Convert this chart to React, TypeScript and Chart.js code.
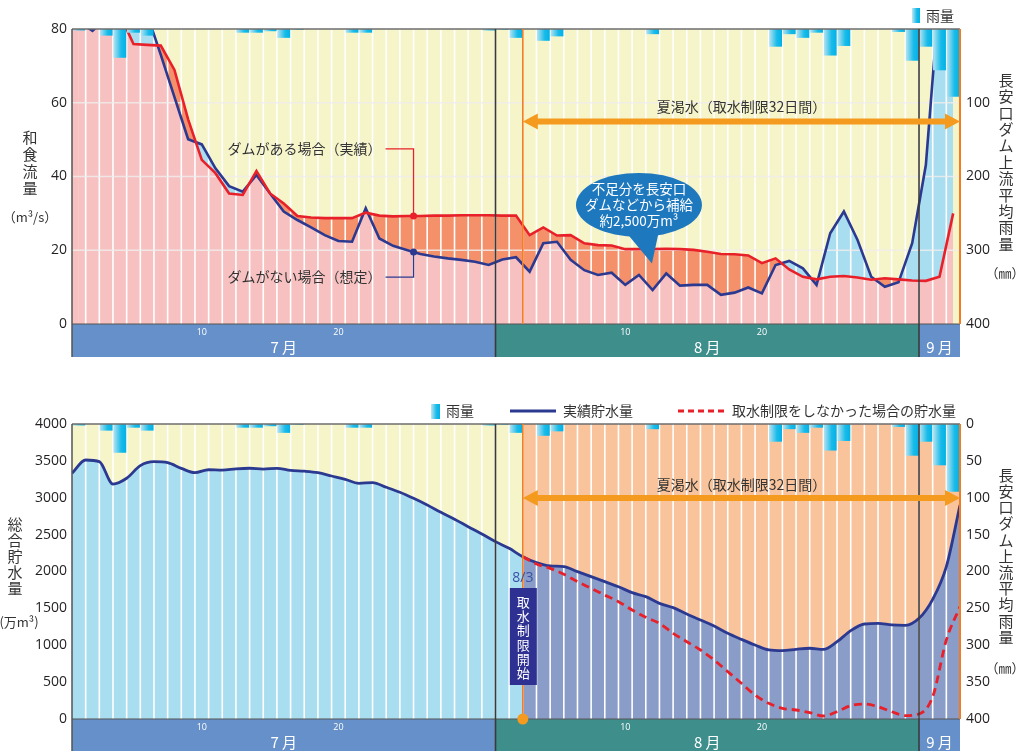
import React, { useEffect, useRef } from "react";
import { Chart, registerables } from "chart.js";

Chart.register(...registerables);

// ---------------- data ----------------
const monthNames = ["7 月", "8 月", "9 月"];
const monthDays = [31, 31, 3];
const dayTickDays = [10, 20];
const dayTickLabels = ["10", "20"];

// daily rainfall (mm), Jul 1 .. Sep 3
const rainMm = [
  2, 0, 9, 39, 5, 9, 0, 0, 0, 0, 0, 0, 5, 5, 3, 12, 1, 0, 0, 0, 5, 5, 0, 0, 0, 0, 0, 0, 0, 0, 2,
  1, 12, 0, 16, 10, 0, 0, 0, 0, 0, 0, 7, 0, 0, 0, 0, 0, 0, 0, 0, 24, 7, 12, 5, 36, 23, 0, 0, 0, 4, 43,
  24, 56, 92,
];

// daily flow at Wajiki (m3/s): with dam (actual)
const flowWithDam = [
  88, 90, 88, 84, 75.9, 75.7, 75.5, 68.9, 55.5, 44.5, 40.9, 35.4, 35.0, 41.5, 35.4, 32.7, 29.3, 28.9,
  28.7, 28.7, 28.7, 30.2, 29.4, 29.2, 29.3, 29.3, 29.4, 29.4, 29.5, 29.5, 29.5,
  29.4, 29.4, 24.1, 26.2, 24.0, 24.1, 21.9, 21.4, 21.3, 20.3, 20.3, 20.3, 20.4, 20.3, 20.1, 19.6, 19.0,
  18.9, 18.6, 16.5, 17.8, 14.8, 12.8, 12.1, 12.8, 13.0, 12.6, 12.0, 12.4, 12.1, 11.8,
  11.7, 12.8, 30.0,
];

// daily flow without dam (estimated)
const flowWithoutDam = [
  82, 79.5, 83, 90, 88, 84, 73, 61.5, 50.1, 48.7, 42.2, 37.4, 35.9, 40.4, 35.4, 30.5, 28.2, 26.2, 24.1,
  22.5, 22.3, 31.4, 23.2, 21.2, 20.1, 19.0, 18.3, 17.8, 17.4, 16.9, 16.0,
  17.5, 18.1, 14.2, 21.9, 22.3, 17.4, 14.6, 13.3, 13.9, 10.6, 13.3, 9.2, 13.7, 10.4, 10.6, 10.6, 7.9,
  8.5, 9.9, 8.3, 16.0, 17.1, 15.1, 10.6, 24.6, 30.5, 22.8, 12.8, 10.1, 11.3, 21.9,
  43.1, 90, 110,
];

// total storage (10^4 m3), at day boundaries Jul 1 .. Sep 4
const storageActual = [
  3331, 3512, 3489, 3186, 3264, 3435, 3489, 3476, 3399, 3340, 3380, 3375, 3392, 3400, 3388, 3399,
  3370, 3360, 3340, 3295, 3250, 3196, 3205, 3142, 3074, 2992, 2902, 2802, 2708, 2608, 2509, 2405,
  2314, 2200, 2120, 2075, 2066, 1998, 1930, 1862, 1794, 1713, 1659, 1568, 1510, 1424, 1342, 1261,
  1162, 1080, 1003, 936, 926, 945, 959, 945, 1048, 1198, 1288, 1297, 1275, 1270, 1365, 1623, 2066,
  2902,
];

// storage if no restriction, from Aug 3 onward
const restrictionStartIndex = 33;
const storageNoRestriction = [
  2200, 2102, 2043, 1962, 1862, 1772, 1681, 1591, 1478, 1379, 1297, 1162, 1048, 936, 800, 642, 484,
  325, 213, 145, 122, 86, 41, 99, 181, 203, 167, 99, 45, 68, 302, 1071, 1523,
];

const flowTickValues = [0, 20, 40, 60, 80];
const flowGridValues = [20, 40, 60];
const rainTickValuesTop = [100, 200, 300, 400];
const storageTickValues = [0, 500, 1000, 1500, 2000, 2500, 3000, 3500, 4000];
const rainTickValuesBottom = [0, 50, 100, 150, 200, 250, 300, 350, 400];

const flowTitle = "和食流量";
const flowUnit = "（m³/s）";
const rainTitle = "長安口ダム上流平均雨量";
const rainUnit = "（㎜）";
const storageTitle = "総合貯水量";
const storageUnit = "(万m³)";
const droughtLabel = "夏渇水（取水制限32日間）";
const withDamLabel = "ダムがある場合（実績）";
const withoutDamLabel = "ダムがない場合（想定）";
const bubbleLines = ["不足分を長安口", "ダムなどから補給", "約2,500万m³"];
const legendRain = "雨量";
const legendActual = "実績貯水量";
const legendNoRestr = "取水制限をしなかった場合の貯水量";
const startDateLabel = "8/3";
const startBoxLabel = "取水制限開始";
const leaderDay = 25;

// ---------------- derived ----------------
const TOTAL_DAYS = monthDays.reduce((a, b) => a + b, 0);
const monthStarts: number[] = [0];
monthDays.forEach((d, i) => monthStarts.push(monthStarts[i] + d));
const dayTickValues: number[] = [];
const dayTickText: string[] = [];
monthDays.forEach((d, m) => {
  dayTickDays.forEach((td, k) => {
    if (td <= d) {
      dayTickValues.push(monthStarts[m] + td - 0.5);
      dayTickText.push(dayTickLabels[k]);
    }
  });
});

const rainPts = rainMm.map((v, i) => ({ x: i + 0.5, y: v }));
const withDamPts = flowWithDam.map((v, i) => ({ x: i + 0.5, y: v }));
const withoutDamPts = flowWithoutDam.map((v, i) => ({ x: i + 0.5, y: v }));
const storagePts = storageActual.map((v, j) => ({ x: j, y: v }));
const noRestrPts = storageNoRestriction.map((v, k) => ({ x: restrictionStartIndex + k, y: v }));

const JP = '"Noto Sans CJK JP", "Noto Sans", sans-serif';
const NUM = '"Open Sans", "Noto Sans", sans-serif';

const C = {
  yellow: "#f6f5c9",
  pink: "#f8c1c1",
  orange: "#f4916b",
  lightBlue: "#a9ddf0",
  salmon: "#f9c49b",
  periwinkle: "#8a9cc8",
  navy: "#2b3990",
  red: "#e8202a",
  bandBlue: "#6690c9",
  teal: "#3e8e8c",
  arrow: "#f39a1f",
  orangeLine: "#f47b20",
  text: "#333333",
  bubble: "#1e78bd",
  box: "#2e3192",
  dateBlue: "#3b52a3",
};

function rainGradient(ctx: any) {
  const chart = ctx.chart;
  const xs = chart.scales && chart.scales.x;
  if (!xs || !chart.chartArea) return "#19bbe9";
  const i = ctx.dataIndex ?? 0;
  const l = xs.getPixelForValue(i);
  const r = xs.getPixelForValue(i + 1);
  const g = chart.ctx.createLinearGradient(l, 0, r, 0);
  g.addColorStop(0, "#bfe6f2");
  g.addColorStop(0.6, "#19bbe9");
  g.addColorStop(1, "#00b0e6");
  return g;
}

function legendSquare(c: CanvasRenderingContext2D, x: number, y: number, w: number, h: number) {
  const g = c.createLinearGradient(x, 0, x + w, 0);
  g.addColorStop(0, "#bfe6f2");
  g.addColorStop(0.6, "#19bbe9");
  g.addColorStop(1, "#00b0e6");
  c.fillStyle = g;
  c.fillRect(x, y, w, h);
}

function vText(c: CanvasRenderingContext2D, text: string, x: number, y0: number, step: number, size: number, color: string) {
  c.font = `${size}px ${JP}`;
  c.fillStyle = color;
  c.textAlign = "center";
  c.textBaseline = "middle";
  Array.from(text).forEach((ch, k) => c.fillText(ch, x, y0 + k * step));
}

function drawBand(chart: any, top: number, bottom: number) {
  const c = chart.ctx;
  const xs = chart.scales.x;
  monthDays.forEach((_d, m) => {
    const l = xs.getPixelForValue(monthStarts[m]);
    const r = xs.getPixelForValue(monthStarts[m + 1]);
    c.fillStyle = m === 1 ? C.teal : C.bandBlue;
    c.fillRect(l, top, r - l, bottom - top);
    c.fillStyle = "#ffffff";
    c.font = `15px ${JP}`;
    c.textAlign = "center";
    c.textBaseline = "middle";
    c.fillText(monthNames[m], (l + r) / 2, top + 23.5);
  });
}

function drawGridLines(chart: any, horizontal: boolean) {
  const c = chart.ctx;
  const a = chart.chartArea;
  const xs = chart.scales.x;
  c.save();
  c.strokeStyle = "#ffffff";
  c.lineWidth = 1.6;
  for (let j = 1; j < TOTAL_DAYS; j++) {
    const x = xs.getPixelForValue(j);
    c.beginPath();
    c.moveTo(x, a.top);
    c.lineTo(x, a.bottom);
    c.stroke();
  }
  if (horizontal) {
    c.strokeStyle = "rgba(238,236,236,0.85)";
    c.lineWidth = 1.3;
    flowGridValues.forEach((v) => {
      const y = chart.scales.y.getPixelForValue(v);
      c.beginPath();
      c.moveTo(a.left, y);
      c.lineTo(a.right, y);
      c.stroke();
    });
  }
  c.restore();
}

function line(c: CanvasRenderingContext2D, x1: number, y1: number, x2: number, y2: number, color: string, w: number) {
  c.strokeStyle = color;
  c.lineWidth = w;
  c.beginPath();
  c.moveTo(x1, y1);
  c.lineTo(x2, y2);
  c.stroke();
}

function drawFrame(chart: any, bandBottom: number) {
  const c = chart.ctx;
  const a = chart.chartArea;
  const xs = chart.scales.x;
  c.save();
  line(c, a.left, a.top, a.right, a.top, "#6d6d6d", 1.5);
  line(c, a.left, a.bottom, a.right, a.bottom, "#555555", 1.2);
  line(c, a.left, a.top, a.left, bandBottom, "#555555", 1.5);
  for (let m = 1; m < monthStarts.length - 1; m++) {
    const x = xs.getPixelForValue(monthStarts[m]);
    line(c, x, a.top, x, bandBottom, "#3a3a3a", 1.6);
  }
  const xr = xs.getPixelForValue(restrictionStartIndex);
  line(c, xr, a.top, xr, a.bottom, C.orangeLine, 1.6);
  line(c, a.right, a.top, a.right, a.bottom, C.orangeLine, 2);
  c.restore();
}

function drawArrow(chart: any, y: number, textY: number) {
  const c = chart.ctx;
  const xs = chart.scales.x;
  const x1 = xs.getPixelForValue(restrictionStartIndex);
  const x2 = xs.getPixelForValue(TOTAL_DAYS);
  const head = 15, hh = 8, sh = 3;
  c.save();
  c.fillStyle = C.arrow;
  c.beginPath();
  c.moveTo(x1, y);
  c.lineTo(x1 + head, y - hh);
  c.lineTo(x1 + head, y - sh);
  c.lineTo(x2 - head, y - sh);
  c.lineTo(x2 - head, y - hh);
  c.lineTo(x2, y);
  c.lineTo(x2 - head, y + hh);
  c.lineTo(x2 - head, y + sh);
  c.lineTo(x1 + head, y + sh);
  c.lineTo(x1 + head, y + hh);
  c.closePath();
  c.fill();
  c.font = `14px ${JP}`;
  c.fillStyle = C.text;
  c.textAlign = "center";
  c.textBaseline = "middle";
  c.fillText(droughtLabel, (x1 + x2) / 2, textY);
  c.restore();
}

const topDecor = {
  id: "topDecor",
  beforeDraw(chart: any) {
    const c = chart.ctx;
    const a = chart.chartArea;
    c.save();
    c.fillStyle = C.yellow;
    c.fillRect(a.left, a.top, a.right - a.left, a.bottom - a.top);
    drawBand(chart, a.bottom, a.bottom + 33);
    c.restore();
  },
  beforeDatasetsDraw(chart: any) {
    // continue the first day's flow area to the left edge of the plot
    const c = chart.ctx;
    const a = chart.chartArea;
    const xs = chart.scales.x;
    const ys = chart.scales.y;
    const x0 = xs.getPixelForValue(withDamPts[0].x);
    const yMin = Math.max(a.top, ys.getPixelForValue(Math.min(flowWithDam[0], flowWithoutDam[0])));
    c.save();
    c.fillStyle = C.pink;
    c.fillRect(a.left, yMin, x0 - a.left, a.bottom - yMin);
    c.restore();
    drawGridLines(chart, true);
  },
  afterDatasetsDraw(chart: any) {
    const c = chart.ctx;
    const a = chart.chartArea;
    const xs = chart.scales.x;
    const ys = chart.scales.y;
    drawFrame(chart, a.bottom + 33);
    drawArrow(chart, a.top + 92.5, a.top + 78);

    c.save();
    // leaders
    const lx = xs.getPixelForValue(leaderDay);
    const redY = ys.getPixelForValue((flowWithDam[leaderDay - 1] + flowWithDam[leaderDay]) / 2);
    const blueY = ys.getPixelForValue((flowWithoutDam[leaderDay - 1] + flowWithoutDam[leaderDay]) / 2);
    const redTextY = ys.getPixelForValue(47.5);
    const blueTextY = ys.getPixelForValue(12.7);
    c.lineWidth = 1.3;
    c.strokeStyle = C.red;
    c.beginPath();
    c.moveTo(lx - 28, redTextY);
    c.lineTo(lx, redTextY);
    c.lineTo(lx, redY);
    c.stroke();
    c.fillStyle = C.red;
    c.beginPath();
    c.arc(lx, redY, 3.5, 0, Math.PI * 2);
    c.fill();
    c.strokeStyle = C.navy;
    c.beginPath();
    c.moveTo(lx - 28, blueTextY);
    c.lineTo(lx, blueTextY);
    c.lineTo(lx, blueY);
    c.stroke();
    c.fillStyle = C.navy;
    c.beginPath();
    c.arc(lx, blueY, 3.5, 0, Math.PI * 2);
    c.fill();
    c.font = `14px ${JP}`;
    c.fillStyle = C.text;
    c.textAlign = "right";
    c.textBaseline = "middle";
    c.fillText(withDamLabel, lx - 32, redTextY);
    c.fillText(withoutDamLabel, lx - 32, blueTextY);

    // bubble
    const bx = xs.getPixelForValue(41.5);
    const by = ys.getPixelForValue(32.3);
    const tipX = xs.getPixelForValue(42.45);
    const tipY = ys.getPixelForValue(16.4);
    c.fillStyle = C.bubble;
    c.beginPath();
    c.ellipse(bx, by, 63, 32, 0, 0, Math.PI * 2);
    c.fill();
    c.beginPath();
    c.moveTo(bx - 14, by + 26);
    c.lineTo(bx + 20, by + 26);
    c.lineTo(tipX, tipY);
    c.closePath();
    c.fill();
    c.fillStyle = "#ffffff";
    c.font = `13.5px ${JP}`;
    c.textAlign = "center";
    bubbleLines.forEach((t, k) => c.fillText(t, bx, by - 16 + k * 16));
    c.restore();
  },
  afterDraw(chart: any) {
    const c = chart.ctx;
    c.save();
    vText(c, flowTitle, 30, 137, 17, 15, C.text);
    c.font = `13px ${JP}`;
    c.fillText(flowUnit, 30, 217);
    vText(c, rainTitle, 1006, 80, 16.4, 15, C.text);
    c.font = `13px ${JP}`;
    c.fillText(rainUnit, 1005, 273);
    legendSquare(c, 912, 8, 8, 15);
    c.font = `14px ${JP}`;
    c.fillStyle = C.text;
    c.textAlign = "left";
    c.textBaseline = "middle";
    c.fillText(legendRain, 926, 16);
    c.restore();
  },
};

const bottomDecor = {
  id: "bottomDecor",
  beforeDraw(chart: any) {
    const c = chart.ctx;
    const a = chart.chartArea;
    const xs = chart.scales.x;
    const xr = xs.getPixelForValue(restrictionStartIndex);
    c.save();
    c.fillStyle = C.yellow;
    c.fillRect(a.left, a.top, xr - a.left, a.bottom - a.top);
    c.fillStyle = C.salmon;
    c.fillRect(xr, a.top, a.right - xr, a.bottom - a.top);
    drawBand(chart, a.bottom, chart.height);
    c.restore();
  },
  beforeDatasetsDraw(chart: any) {
    drawGridLines(chart, false);
  },
  afterDatasetsDraw(chart: any) {
    const c = chart.ctx;
    const a = chart.chartArea;
    const xs = chart.scales.x;
    drawFrame(chart, chart.height);
    drawArrow(chart, a.top + 74, a.top + 61);
    const xr = xs.getPixelForValue(restrictionStartIndex);
    c.save();
    c.font = `14px ${NUM}`;
    c.fillStyle = C.dateBlue;
    c.textAlign = "center";
    c.textBaseline = "middle";
    c.fillText(startDateLabel, xr, a.top + 154);
    c.fillStyle = C.box;
    c.fillRect(xr - 13, a.top + 164, 27, 97);
    vText(c, startBoxLabel, xr + 0.5, a.top + 178, 14.2, 13, "#ffffff");
    c.fillStyle = C.arrow;
    c.beginPath();
    c.arc(xr, a.bottom, 5.5, 0, Math.PI * 2);
    c.fill();
    c.restore();
  },
  afterDraw(chart: any) {
    const c = chart.ctx;
    c.save();
    vText(c, storageTitle, 15, 144, 16, 15, C.text);
    c.font = `13px ${JP}`;
    c.fillText(storageUnit, 19, 242);
    vText(c, rainTitle, 1006, 95, 16.2, 15, C.text);
    c.font = `13px ${JP}`;
    c.fillText(rainUnit, 1005, 288);
    // legend
    const ly = 31;
    legendSquare(c, 431, ly - 7, 9, 15);
    c.font = `14px ${JP}`;
    c.fillStyle = C.text;
    c.textAlign = "left";
    c.textBaseline = "middle";
    c.fillText(legendRain, 446, ly);
    line(c, 510, ly, 556, ly, C.navy, 3);
    c.fillStyle = C.text;
    c.fillText(legendActual, 563, ly);
    c.setLineDash([6, 4]);
    line(c, 678, ly, 724, ly, C.red, 3);
    c.setLineDash([]);
    c.fillStyle = C.text;
    c.fillText(legendNoRestr, 732, ly);
    c.restore();
  },
};

function xAxis(height: number) {
  return {
    type: "linear",
    min: 0,
    max: TOTAL_DAYS,
    offset: false,
    afterBuildTicks: (s: any) => {
      s.ticks = dayTickValues.map((v) => ({ value: v }));
    },
    afterFit: (s: any) => {
      s.height = height;
    },
    ticks: {
      autoSkip: false,
      maxRotation: 0,
      padding: 3,
      color: "#ffffff",
      font: { family: NUM, size: 9 },
      callback: (_v: any, idx: number) => dayTickText[idx],
    },
    grid: { display: false, drawTicks: false, offset: false },
    border: { display: false },
  };
}

function yAxis(position: string, max: number, values: number[], width: number, reverse: boolean) {
  return {
    type: "linear",
    position,
    min: 0,
    max,
    reverse,
    afterBuildTicks: (s: any) => {
      s.ticks = values.map((v) => ({ value: v }));
    },
    afterFit: (s: any) => {
      s.width = width;
    },
    ticks: {
      padding: position === "left" ? 5 : 6,
      color: "#231f20",
      font: { family: NUM, size: 14 },
      callback: (v: any) => String(v),
    },
    grid: { display: false, drawTicks: false },
    border: { display: false },
  };
}

function rainDataset() {
  return {
    type: "bar",
    data: rainPts,
    yAxisID: "yR",
    order: 0,
    backgroundColor: rainGradient,
    borderWidth: 0,
    barPercentage: 0.94,
    categoryPercentage: 1,
  };
}

function topConfig(): any {
  return {
    type: "bar",
    data: {
      datasets: [
        rainDataset(),
        {
          type: "line",
          data: withDamPts,
          yAxisID: "y",
          order: 1,
          borderColor: C.red,
          borderWidth: 2.6,
          pointRadius: 0,
          tension: 0,
          fill: { target: 2, above: C.orange, below: C.lightBlue },
        },
        {
          type: "line",
          data: withoutDamPts,
          yAxisID: "y",
          order: 2,
          borderColor: C.navy,
          borderWidth: 2.6,
          pointRadius: 0,
          tension: 0,
          backgroundColor: C.pink,
          fill: "origin",
        },
      ],
    },
    options: {
      responsive: false,
      animation: false,
      layout: { padding: { top: 29, left: 0, right: 0, bottom: 0 } },
      plugins: {
        legend: { display: false },
        tooltip: { enabled: false },
        filler: { drawTime: "beforeDatasetsDraw" },
      },
      scales: {
        x: xAxis(46),
        y: yAxis("left", 80, flowTickValues, 72, false),
        yR: yAxis("right", 400, rainTickValuesTop, 58, true),
      },
    },
    plugins: [topDecor],
  };
}

function storageFill(ctx: any) {
  const chart = ctx.chart;
  const xs = chart.scales && chart.scales.x;
  const a = chart.chartArea;
  if (!xs || !a) return C.lightBlue;
  const xr = xs.getPixelForValue(restrictionStartIndex);
  const g = chart.ctx.createLinearGradient(a.left, 0, a.right, 0);
  const f = Math.min(1, Math.max(0, (xr - a.left) / (a.right - a.left)));
  g.addColorStop(0, C.lightBlue);
  g.addColorStop(f, C.lightBlue);
  g.addColorStop(Math.min(1, f + 0.0001), C.periwinkle);
  g.addColorStop(1, C.periwinkle);
  return g;
}

function bottomConfig(): any {
  return {
    type: "bar",
    data: {
      datasets: [
        rainDataset(),
        {
          type: "line",
          data: noRestrPts,
          yAxisID: "y",
          order: 1,
          borderColor: C.red,
          borderWidth: 2.8,
          borderDash: [8, 5],
          pointRadius: 0,
          cubicInterpolationMode: "monotone",
          fill: false,
        },
        {
          type: "line",
          data: storagePts,
          yAxisID: "y",
          order: 2,
          borderColor: C.navy,
          borderWidth: 2.8,
          pointRadius: 0,
          cubicInterpolationMode: "monotone",
          backgroundColor: storageFill,
          fill: "origin",
        },
      ],
    },
    options: {
      responsive: false,
      animation: false,
      layout: { padding: { top: 44, left: 0, right: 0, bottom: 0 } },
      plugins: {
        legend: { display: false },
        tooltip: { enabled: false },
        filler: { drawTime: "beforeDatasetsDraw" },
      },
      scales: {
        x: xAxis(32),
        y: yAxis("left", 4000, storageTickValues, 72, false),
        yR: yAxis("right", 400, rainTickValuesBottom, 58, true),
      },
    },
    plugins: [bottomDecor],
  };
}

export default function App() {
  const topRef = useRef<HTMLCanvasElement>(null);
  const botRef = useRef<HTMLCanvasElement>(null);
  useEffect(() => {
    const a = new Chart(topRef.current as HTMLCanvasElement, topConfig());
    const b = new Chart(botRef.current as HTMLCanvasElement, bottomConfig());
    return () => {
      a.destroy();
      b.destroy();
    };
  }, []);
  return (
    <div
      style={{
        position: "absolute",
        left: 0,
        top: 0,
        width: 1018,
        height: 751,
        background: "#ffffff",
        overflow: "hidden",
      }}
    >
      <canvas
        ref={topRef}
        width={1018}
        height={370}
        style={{ position: "absolute", left: 0, top: 0, width: 1018, height: 370 }}
      />
      <canvas
        ref={botRef}
        width={1018}
        height={371}
        style={{ position: "absolute", left: 0, top: 380, width: 1018, height: 371 }}
      />
    </div>
  );
}
